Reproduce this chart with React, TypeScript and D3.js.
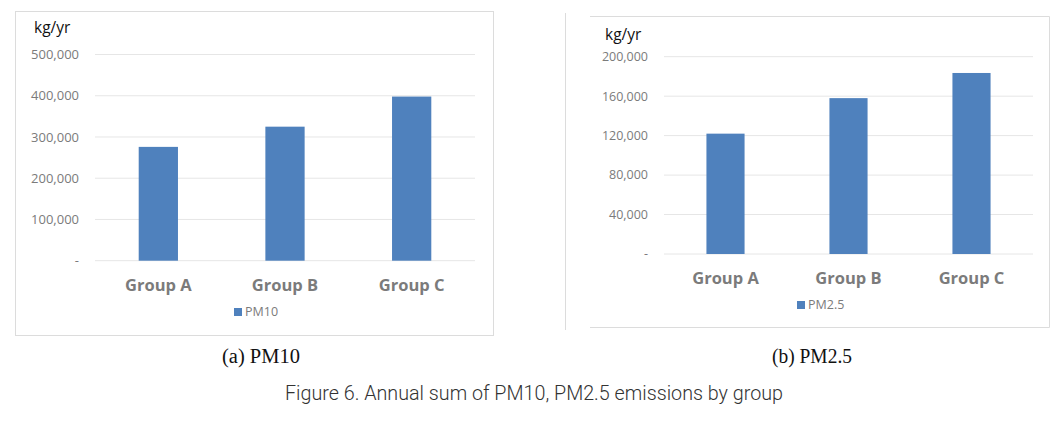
import * as d3 from 'd3'
import React from 'react'

const categories = ['Group A', 'Group B', 'Group C']
const pm10Values = [276000, 325000, 398000]
const pm25Values = [122000, 158000, 183500]
const pm10Ticks = [0, 100000, 200000, 300000, 400000, 500000]
const pm25Ticks = [0, 40000, 80000, 120000, 160000, 200000]

const BAR = '#4f81bd'
const GRID = '#e6e6e6'
const FRAME = '#dcdcdc'
const GRAY = '#7b7b7b'
const SANS = '"Open Sans", "Noto Sans", sans-serif'
const SERIF = '"Liberation Serif", "DejaVu Serif", serif'

const fmt = (v) => (v === 0 ? '-' : d3.format(',')(v))

const Panel = (props) => {
  const { values, ticks, label, x0, x1, yTop, yZero, unitX, unitY, catY, legendX, legendY, tickSize } = props
  const x = d3.scaleBand().domain(categories).range([x0, x1]).paddingInner(0.69).paddingOuter(0.345)
  const y = d3.scaleLinear().domain([0, ticks[ticks.length - 1]]).range([yZero, yTop])
  return (
    <g>
      <text x={unitX} y={unitY} fontFamily={SANS} fontSize={15.5} fill="#111">kg/yr</text>
      {ticks.map((t) => (
        <g key={t}>
          <line x1={x0} x2={x1} y1={y(t)} y2={y(t)} stroke={GRID} strokeWidth={1} />
          <text x={x0 - 16} y={y(t)} dy="0.35em" textAnchor="end" fontFamily={SANS} fontSize={tickSize} fill={GRAY}>{fmt(t)}</text>
        </g>
      ))}
      {categories.map((c, i) => (
        <g key={c}>
          <rect x={x(c)} y={y(values[i])} width={x.bandwidth()} height={yZero - y(values[i])} fill={BAR} />
          <text x={x(c) + x.bandwidth() / 2} y={catY} textAnchor="middle" fontFamily={SANS} fontWeight="bold" fontSize={16.5} fill={GRAY}>{c}</text>
        </g>
      ))}
      <rect x={legendX} y={legendY - 4} width={8} height={8} fill={BAR} />
      <text x={legendX + 11} y={legendY} dy="0.35em" fontFamily={SANS} fontSize={12.5} fill={GRAY}>{label}</text>
    </g>
  )
}

export default function App() {
  return (
    <svg width={1063} height={423} style={{ position: 'absolute', left: 0, top: 0, background: '#fff' }}>
      <rect x={0} y={0} width={1063} height={423} fill="#fff" />
      {/* left frame */}
      <rect x={15.5} y={11.5} width={478} height={324} fill="none" stroke={FRAME} />
      {/* right frame, open left side plus a stray edge line */}
      <path d="M590,16.5H1049.5V327.5H590" fill="none" stroke={FRAME} />
      <line x1={565.5} x2={565.5} y1={13} y2={330} stroke={FRAME} />
      <Panel values={pm10Values} ticks={pm10Ticks} label="PM10" x0={95} x1={475} yTop={54.5} yZero={260.7}
        unitX={34} unitY={33} catY={291} legendX={234} legendY={312} tickSize={13} />
      <Panel values={pm25Values} ticks={pm25Ticks} label="PM2.5" x0={664} x1={1033} yTop={56.7} yZero={254}
        unitX={605} unitY={40} catY={284} legendX={797} legendY={305} tickSize={12.5} />
      <text x={222} y={363} fontFamily={SERIF} fontSize={20} fill="#111" textLength={78} lengthAdjust="spacingAndGlyphs">(a) PM10</text>
      <text x={772} y={363} fontFamily={SERIF} fontSize={20} fill="#111" textLength={80} lengthAdjust="spacingAndGlyphs">(b) PM2.5</text>
      <text x={285} y={400} fontFamily='Roboto, "Liberation Sans", sans-serif' fontWeight={300} fontSize={21} fill="#333" textLength={498} lengthAdjust="spacingAndGlyphs">Figure 6. Annual sum of PM10, PM2.5 emissions by group</text>
    </svg>
  )
}
